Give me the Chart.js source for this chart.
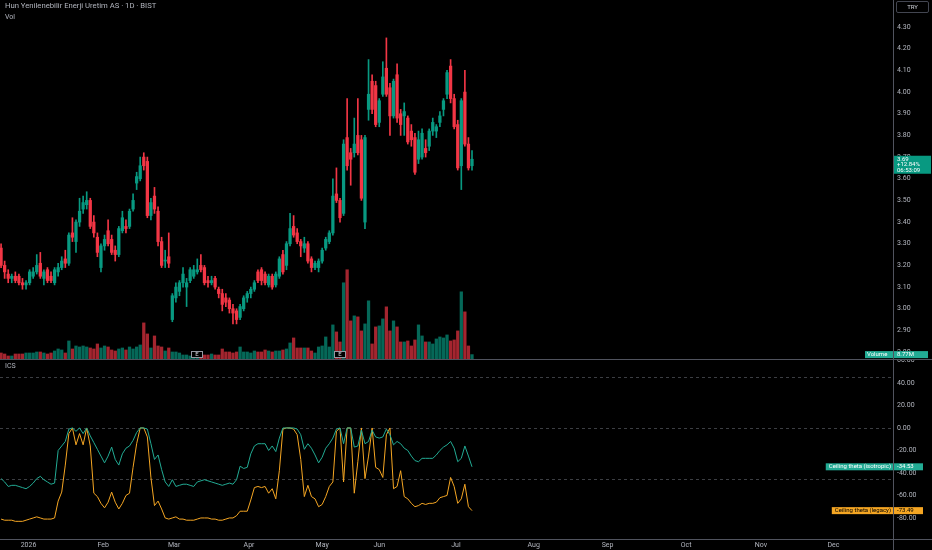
<!DOCTYPE html>
<html>
<head>
<meta charset="utf-8">
<script src="https://cdn.jsdelivr.net/npm/chart.js@4.4.1/dist/chart.umd.min.js"></script>
<style>
html, body { margin: 0; padding: 0; background: #000; overflow: hidden; }
#wrap { position: relative; width: 932px; height: 550px; background: #000; font-family: Roboto, "Liberation Sans", sans-serif; }
#cTop { position: absolute; left: 0; top: 0; }
#cBot { position: absolute; left: 0; top: 360px; }
.t { position: absolute; color: #b2b5be; font-size: 7px; line-height: 8px; white-space: nowrap; }
.hl { position: absolute; left: 0; width: 932px; height: 1px; background: #50535e; }
.vl { position: absolute; top: 0; left: 893px; width: 1px; height: 550px; background: #50535e; }
#try { position: absolute; left: 896px; top: 1px; width: 31px; height: 10px; border: 1px solid #434651; border-radius: 2px;
       color: #d1d4dc; font-size: 6px; line-height: 10px; text-align: center; }
</style>
</head>
<body>
<div id="wrap">
  <canvas id="cTop" width="932" height="359"></canvas>
  <canvas id="cBot" width="932" height="190"></canvas>
  <div class="hl" style="top:359px"></div>
  <div class="hl" style="top:539px"></div>
  <div class="vl"></div>
  <div class="t" style="left:5px;top:2px;font-size:7.7px">Hun Yenilenebilir Enerji Uretim AS · 1D · BIST</div>
  <div class="t" style="left:5px;top:13px">Vol</div>
  <div class="t" style="left:5px;top:362px">ICS</div>
  <div id="try">TRY</div>
</div>
<script>
// daily bars, one per trading session
const opens = [
  3.28,3.20,3.16,3.14,3.15,3.15,3.12,3.11,3.12,3.15,
  3.17,3.21,3.14,3.18,3.15,3.12,3.17,3.19,3.23,3.21,
  3.35,3.31,3.40,3.46,3.48,3.50,3.40,3.33,3.19,3.29,
  3.36,3.32,3.27,3.25,3.36,3.38,3.38,3.46,3.58,3.60,
  3.70,3.68,3.43,3.52,3.45,3.31,3.22,3.24,2.95,3.05,
  3.08,3.12,3.10,3.13,3.15,3.17,3.20,3.19,3.13,3.12,
  3.14,3.09,3.07,3.05,3.04,3.00,2.99,2.96,3.00,3.05,
  3.07,3.09,3.17,3.18,3.16,3.11,3.15,3.11,3.15,3.25,
  3.20,3.30,3.38,3.35,3.31,3.28,3.30,3.23,3.19,3.19,
  3.22,3.28,3.31,3.35,3.53,3.50,3.44,3.79,3.72,3.72,
  3.80,3.78,3.40,3.92,4.05,4.03,3.86,3.99,4.11,4.02,
  3.89,4.08,3.90,3.89,3.88,3.82,3.79,3.69,3.70,3.74,
  3.75,3.82,3.82,3.86,3.92,3.99,4.12,3.97,3.85,3.66,
  4.00,3.76,3.66
];
const highs = [
  3.30,3.22,3.18,3.16,3.17,3.16,3.14,3.13,3.18,3.19,
  3.25,3.26,3.18,3.19,3.17,3.19,3.21,3.24,3.27,3.35,
  3.42,3.41,3.51,3.52,3.54,3.51,3.43,3.35,3.30,3.34,
  3.41,3.34,3.29,3.38,3.45,3.41,3.46,3.53,3.63,3.70,
  3.72,3.70,3.51,3.56,3.47,3.33,3.27,3.35,3.07,3.12,
  3.13,3.19,3.14,3.19,3.20,3.23,3.25,3.20,3.15,3.15,
  3.15,3.10,3.09,3.07,3.05,3.02,3.00,3.02,3.06,3.08,
  3.10,3.13,3.18,3.19,3.17,3.16,3.16,3.17,3.24,3.27,
  3.31,3.44,3.43,3.37,3.32,3.33,3.31,3.24,3.22,3.23,
  3.28,3.33,3.36,3.60,3.65,3.51,3.78,3.97,3.74,3.88,
  3.97,3.80,3.80,4.15,4.08,4.05,3.97,4.14,4.25,4.04,
  4.06,4.13,3.92,3.95,3.89,3.85,3.81,3.82,3.83,3.78,
  3.83,3.88,3.85,3.91,3.97,4.10,4.15,3.99,3.87,3.97,
  4.10,3.79,3.73
];
const lows = [
  3.19,3.14,3.12,3.12,3.12,3.11,3.09,3.09,3.11,3.14,
  3.16,3.14,3.11,3.12,3.12,3.11,3.15,3.18,3.19,3.20,
  3.31,3.26,3.38,3.44,3.46,3.37,3.33,3.24,3.17,3.27,
  3.29,3.25,3.22,3.24,3.35,3.35,3.37,3.45,3.55,3.59,
  3.64,3.42,3.41,3.44,3.29,3.19,3.19,3.19,2.94,3.03,
  3.06,3.10,3.01,3.12,3.14,3.16,3.17,3.11,3.10,3.11,
  3.09,3.05,2.99,3.01,2.98,2.93,2.93,2.95,2.99,3.03,
  3.05,3.08,3.12,3.11,3.11,3.10,3.09,3.10,3.14,3.16,
  3.18,3.29,3.33,3.30,3.24,3.26,3.21,3.17,3.18,3.17,
  3.21,3.27,3.30,3.34,3.49,3.40,3.43,3.64,3.57,3.70,
  3.71,3.50,3.37,3.87,3.90,3.84,3.84,3.98,3.98,3.80,
  3.88,3.86,3.80,3.80,3.76,3.75,3.62,3.67,3.69,3.70,
  3.73,3.80,3.79,3.84,3.89,3.97,3.95,3.83,3.64,3.55,
  3.75,3.64,3.64
];
const closes = [
  3.20,3.17,3.14,3.15,3.13,3.12,3.11,3.12,3.17,3.17,
  3.20,3.15,3.17,3.13,3.13,3.18,3.19,3.22,3.21,3.34,
  3.33,3.40,3.45,3.49,3.50,3.38,3.35,3.26,3.29,3.32,
  3.30,3.26,3.25,3.37,3.42,3.37,3.45,3.50,3.61,3.66,
  3.66,3.43,3.49,3.46,3.31,3.20,3.22,3.21,3.06,3.10,
  3.12,3.16,3.12,3.18,3.18,3.18,3.18,3.12,3.12,3.13,
  3.10,3.07,3.02,3.03,3.00,2.98,2.95,3.01,3.05,3.07,
  3.09,3.12,3.13,3.13,3.12,3.15,3.10,3.16,3.23,3.17,
  3.30,3.37,3.34,3.31,3.29,3.30,3.22,3.19,3.21,3.22,
  3.27,3.32,3.35,3.52,3.50,3.42,3.76,3.66,3.69,3.76,
  3.72,3.51,3.79,3.99,3.92,3.85,3.96,4.07,3.99,3.89,
  4.05,3.88,3.85,3.91,3.77,3.78,3.63,3.78,3.81,3.72,
  3.82,3.86,3.84,3.89,3.96,4.09,3.97,3.84,3.65,3.96,
  3.76,3.65,3.69
];
// volume in millions
const volumes = [
  12,10,6,6,10,10,10,12,12,12,
  14,14,12,10,12,16,20,18,12,36,
  20,26,24,26,24,22,20,30,22,26,
  24,18,16,20,22,18,24,20,24,28,
  72,50,22,46,26,24,16,22,14,14,
  12,8,8,6,8,8,10,8,8,10,
  8,8,20,14,14,12,14,24,14,14,
  12,16,14,14,18,16,14,16,16,18,
  20,32,42,22,22,22,22,16,12,24,
  26,44,24,68,54,34,152,178,76,86,
  84,56,70,116,30,64,66,80,104,56,
  76,64,34,34,36,26,38,68,46,34,
  34,30,40,44,42,48,36,38,56,134,
  94,26,8.77
];
// ICS indicator
const thetaIsotropic = [
  -45,-48,-52,-51,-51,-52,-53,-54,-52,-49,
  -45,-43,-46,-48,-50,-49,-20,-16,-12,-1,
  0,-3,0,-5,0,-7,-13,-19,-25,-31,
  -25,-17,-28,-33,-23,-18,-16,-11,-4,0,
  0,-1,-14,-28,-24,-37,-48,-52,-46,-52,
  -51,-50,-50,-51,-52,-48,-47,-46,-47,-48,
  -49,-50,-51,-50,-49,-50,-46,-34,-36,-35,
  -23,-16,-14,-14,-14,-20,-16,-21,-9,0,
  0,0,0,-1,-6,-19,-14,-18,-24,-31,
  -26,-18,-14,-9,-1,0,-14,0,0,-17,
  -16,-2,-14,-12,-2,-8,-9,-8,-1,-6,
  -15,-12,-14,-18,-20,-25,-29,-30,-27,-27,
  -27,-27,-24,-20,-17,-15,-12,-18,-30,-27,
  -16,-25,-34.53
];
const thetaLegacy = [
  -81,-82,-82,-82,-83,-83,-83,-82,-81,-80,
  -79,-80,-81,-81,-81,-80,-65,-57,-33,-5,
  0,-15,-5,-15,0,-16,-58,-61,-67,-71,
  -66,-57,-66,-72,-67,-60,-58,-35,-14,0,
  0,-8,-44,-69,-65,-72,-80,-81,-80,-79,
  -81,-81,-82,-82,-82,-81,-80,-80,-80,-81,
  -81,-82,-82,-81,-80,-80,-78,-74,-74,-74,
  -64,-53,-52,-53,-52,-58,-54,-63,-38,-1,
  0,0,-1,-6,-28,-61,-51,-61,-63,-70,
  -68,-61,-52,-48,-3,0,-48,0,0,-58,
  -30,0,-45,-25,0,-35,-37,-44,-6,0,
  -54,-52,-38,-61,-63,-67,-70,-69,-67,-68,
  -67,-67,-66,-62,-61,-60,-44,-52,-67,-63,
  -50,-70,-73.49
];
const thetaLevels = [45, 0, -45];
const earnings = [55, 95];

const priceTicks = [2.8,2.9,3.0,3.1,3.2,3.3,3.4,3.5,3.6,3.7,3.8,3.9,4.0,4.1,4.2,4.3];
const thetaTicks = [-80,-60,-40,-20,0,20,40,60];
const monthLabels = ['2026','Feb','Mar','Apr','May','Jun','Jul','Aug','Sep','Oct','Nov','Dec'];
const monthPos = [7.7,28.6,48.5,69.5,90,106,127.5,149.3,170,192,213,233.3];

const xMin = -0.3, xMax = 250;
const upCol = '#089981', dnCol = '#f23645';
const tickCol = '#b2b5be';
const font7 = {family: 'Roboto', size: 7};

const idx = closes.map((c, i) => i);
const candleCol = idx.map(i => closes[i] >= opens[i] ? upCol : dnCol);
const volCol = idx.map(i => closes[i] >= opens[i] ? 'rgba(8,153,129,0.68)' : 'rgba(242,54,69,0.68)');

function fixWidth(s) { s.width = 39; s.paddingTop = 0; s.paddingBottom = 0; }

const topExtras = {
    id: 'topExtras',
    afterDraw(chart) {
        const ctx = chart.ctx;
        const x = chart.scales.x, y = chart.scales.y, yv = chart.scales.yv;
        const last = closes.length - 1;
        ctx.save();
        // earnings markers
        ctx.font = '6px Roboto';
        ctx.textAlign = 'center';
        ctx.textBaseline = 'middle';
        earnings.forEach(i => {
            const px = Math.round(x.getPixelForValue(i));
            ctx.fillStyle = '#000';
            ctx.fillRect(px - 6, 351, 12, 7);
            ctx.strokeStyle = '#9598a1';
            ctx.lineWidth = 1;
            ctx.strokeRect(px - 5.5, 351.5, 11, 6);
            ctx.fillStyle = '#d1d4dc';
            ctx.fillText('E', px, 354.8);
        });
        // volume label
        const vy = yv.getPixelForValue(volumes[last]);
        ctx.fillStyle = '#22ab94';
        ctx.fillRect(865, vy - 3.5, 63, 7);
        ctx.fillStyle = '#fff';
        ctx.textAlign = 'left';
        ctx.fillText('Volume', 867, vy);
        ctx.fillText(volumes[last].toFixed(2) + 'M', 897, vy);
        // last price label
        const py = y.getPixelForValue(closes[last]);
        ctx.fillStyle = upCol;
        ctx.fillRect(894, py - 3.5, 37, 18);
        ctx.fillStyle = '#fff';
        ctx.fillText(closes[last].toFixed(2), 897, py);
        ctx.fillText('+12.84%', 897, py + 5.5);
        ctx.fillText('06:53:09', 897, py + 11);
        ctx.restore();
    }
};

const botExtras = {
    id: 'botExtras',
    beforeDatasetsDraw(chart) {
        const ctx = chart.ctx, a = chart.chartArea, y = chart.scales.y;
        ctx.save();
        ctx.strokeStyle = 'rgba(120,123,134,0.5)';
        ctx.lineWidth = 1;
        ctx.setLineDash([3, 3]);
        thetaLevels.forEach(v => {
            const py = Math.round(y.getPixelForValue(v)) + 0.5;
            ctx.beginPath();
            ctx.moveTo(a.left, py);
            ctx.lineTo(a.right, py);
            ctx.stroke();
        });
        ctx.restore();
    },
    afterDraw(chart) {
        const ctx = chart.ctx, y = chart.scales.y;
        const last = closes.length - 1;
        ctx.save();
        ctx.font = '6px Roboto';
        ctx.textBaseline = 'middle';
        const tags = [
            {name: 'Ceiling theta (isotropic)', v: thetaIsotropic[last], bg: '#22ab94', fg: '#fff'},
            {name: 'Ceiling theta (legacy)', v: thetaLegacy[last], bg: '#f5a623', fg: '#000'}
        ];
        tags.forEach(t => {
            const py = y.getPixelForValue(t.v);
            const w = ctx.measureText(t.name).width;
            ctx.fillStyle = t.bg;
            ctx.fillRect(891 - w - 3, py - 3.5, 923 - (891 - w - 3), 7);
            ctx.fillStyle = t.fg;
            ctx.textAlign = 'right';
            ctx.fillText(t.name, 891, py);
            ctx.textAlign = 'left';
            ctx.fillText(t.v.toFixed(2), 897, py);
        });
        ctx.restore();
    }
};

new Chart(document.getElementById('cTop'), {
    type: 'bar',
    data: {
        datasets: [
            {data: idx.map(i => ({x: i, y: volumes[i]})), yAxisID: 'yv', backgroundColor: volCol,
             barThickness: 2.6, grouped: false, order: 3},
            {data: idx.map(i => ({x: i, y: [lows[i], highs[i]]})), yAxisID: 'y', backgroundColor: candleCol,
             barThickness: 1, grouped: false, order: 2},
            {data: idx.map(i => ({x: i, y: [opens[i], closes[i]]})), yAxisID: 'y', backgroundColor: candleCol,
             barThickness: 2.6, minBarLength: 1, grouped: false, order: 1}
        ]
    },
    options: {
        responsive: false,
        animation: false,
        layout: {padding: 0},
        plugins: {legend: {display: false}, tooltip: {enabled: false}},
        scales: {
            x: {type: 'linear', min: xMin, max: xMax, display: false, offset: false},
            y: {
                position: 'right', min: 2.768, max: 4.425,
                grid: {display: false, drawTicks: false},
                border: {display: false},
                ticks: {color: tickCol, font: font7, padding: 4, crossAlign: 'near',
                        callback: v => v.toFixed(2)},
                afterBuildTicks: s => { s.ticks = priceTicks.map(v => ({value: v})); },
                afterFit: fixWidth
            },
            yv: {display: false, min: 0, max: 716}
        }
    },
    plugins: [topExtras]
});

new Chart(document.getElementById('cBot'), {
    type: 'line',
    data: {
        datasets: [
            {data: idx.map(i => ({x: i, y: thetaIsotropic[i]})), borderColor: '#22ab94', borderWidth: 1,
             pointRadius: 0, tension: 0},
            {data: idx.map(i => ({x: i, y: thetaLegacy[i]})), borderColor: '#f5a623', borderWidth: 1,
             pointRadius: 0, tension: 0}
        ]
    },
    options: {
        responsive: false,
        animation: false,
        layout: {padding: 0},
        plugins: {legend: {display: false}, tooltip: {enabled: false}},
        scales: {
            x: {
                type: 'linear', min: xMin, max: xMax,
                grid: {display: false, drawTicks: false},
                border: {display: false},
                ticks: {color: tickCol, font: font7, padding: 2, autoSkip: false, maxRotation: 0,
                        callback: (v, i) => monthLabels[i]},
                afterBuildTicks: s => { s.ticks = monthPos.map(v => ({value: v})); },
                afterFit: s => { s.height = 11; s.paddingLeft = 0; s.paddingRight = 0; }
            },
            y: {
                position: 'right', min: -98.7, max: 60.4,
                grid: {display: false, drawTicks: false},
                border: {display: false},
                ticks: {color: tickCol, font: font7, padding: 4, crossAlign: 'near',
                        callback: v => v.toFixed(2)},
                afterBuildTicks: s => { s.ticks = thetaTicks.map(v => ({value: v})); },
                afterFit: fixWidth
            }
        }
    },
    plugins: [botExtras]
});
</script>
</body>
</html>
